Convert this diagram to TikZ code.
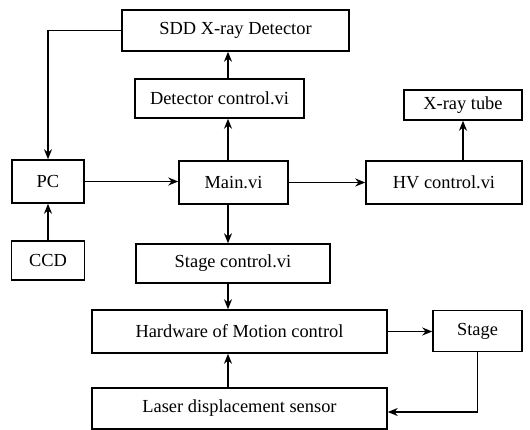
\documentclass[tikz,border=0pt]{standalone}
\usepackage{fontspec}
\setmainfont{Liberation Serif}
\usetikzlibrary{arrows.meta}

\begin{document}
\begin{tikzpicture}[x=1pt,y=-1pt,->,>={Stealth[length=10pt,width=8pt]},line width=1.5pt,
  block/.style={draw,rectangle,inner sep=0pt,minimum height=41pt,font=\rmfamily\fontsize{18.4}{22}\selectfont}]
  \useasboundingbox (0,0) rectangle (530,429);
	\node [block, minimum width=227pt] (sdd) at (235.5,30.5) {SDD X-ray Detector};
	\node [block, minimum width=169pt, minimum height=39pt] (det) at (219.5,98.5) {Detector control.vi};
	\node [block, minimum width=118pt, minimum height=30pt] (tube) at (463,105) {X-ray tube};
	\node [block, minimum width=72pt, minimum height=43pt] (pc) at (48,181.5) {PC};
	\node [block, minimum width=109pt, minimum height=43pt] (main) at (233.5,182.5) {Main.vi};
	\node [block, minimum width=156pt, minimum height=43pt] (hv) at (444,182.5) {HV control.vi};
	\node [block, minimum width=73pt, minimum height=39pt] (ccd) at (48,260.5) {CCD};
	\node [block, minimum width=194pt, minimum height=39pt] (stc) at (233,263.5) {Stage control.vi};
	\node [block, minimum width=295pt, minimum height=43pt] (hw) at (239.5,331.5) {Hardware of Motion control};
	\node [block, minimum width=89pt] (stage) at (477.5,331) {Stage};
	\node [block, minimum width=295pt] (laser) at (239.5,408.5) {Laser displacement sensor};
  \coordinate (spine) at (228,0);

  \draw (sdd.west) -| (pc.north);
  \draw (ccd.north) -- (pc.south);
  \draw (pc.east) -- (main.west |- pc.east);
  \draw (main.east) -- (hv.west |- main.east);
  \draw (hv.north -| tube.south) -- (tube.south);
  \draw (main.north -| spine) -- (det.south -| spine);
  \draw (det.north -| spine) -- (sdd.south -| spine);
  \draw (main.south -| spine) -- (stc.north -| spine);
  \draw (stc.south -| spine) -- (hw.north -| spine);
  \draw (laser.north -| spine) -- (hw.south -| spine);
  \draw (hw.east) -- (stage.west |- hw.east);
  \draw (stage.south) |- ([yshift=-3.5pt]laser.east);
\end{tikzpicture}
\end{document}
